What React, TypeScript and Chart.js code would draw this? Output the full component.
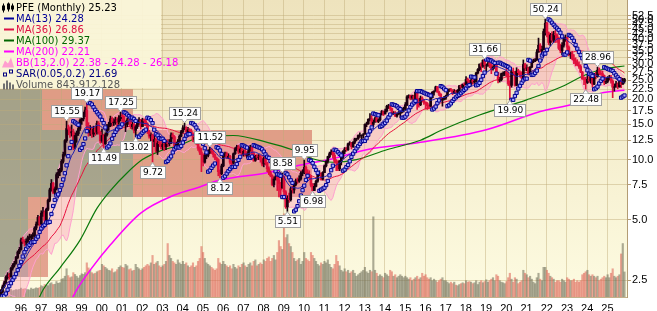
import React, { useEffect, useRef } from "react";
import { Chart, registerables } from "chart.js";

Chart.register(...registerables);

const closes: number[] = [
  2.18, 2.31, 2.42, 2.58, 2.65, 2.59, 2.86, 2.96, 3.03, 3.24, 3.45, 3.56,
  3.97, 3.90, 3.86, 3.90, 4.07, 4.11, 4.14, 4.17, 4.55, 4.76, 5.14, 4.76,
  5.40, 5.47, 4.97, 5.64, 6.25, 7.06, 7.60, 6.85, 7.14, 8.41, 8.63, 8.84,
  9.80, 10.6, 12.45, 14.3, 14.2, 13.6, 13.8, 11.5, 13.2, 13.5, 14.3, 15.7,
  15.97, 16.9, 17.7, 14.7, 13.6, 14.0, 13.4, 14.2, 13.7, 15.2, 13.7, 12.4,
  13.2, 12.0, 13.3, 14.6, 14.8, 16.0, 15.3, 15.4, 15.8, 15.4, 16.0, 16.5,
  16.4, 15.0, 15.0, 15.8, 15.7, 14.6, 15.0, 14.0, 14.6, 15.3, 15.8, 14.6,
  15.8, 15.6, 15.1, 13.8, 13.1, 13.3, 12.3, 12.6, 11.0, 12.1, 12.0, 11.6,
  11.9, 11.6, 12.2, 12.0, 12.1, 13.3, 13.0, 11.7, 11.9, 12.3, 13.1, 13.8,
  14.4, 14.4, 13.8, 14.1, 13.9, 13.5, 12.6, 12.9, 12.0, 11.4, 10.9, 10.6,
  9.7, 10.5, 10.5, 10.9, 11.2, 11.0, 10.6, 10.2, 10.0, 8.7, 8.5, 9.3,
  10.5, 10.7, 10.2, 10.4, 9.7, 9.6, 10.7, 11.3, 11.6, 10.9, 11.3, 10.6,
  11.0, 10.5, 10.6, 11.1, 11.55, 10.75, 9.9, 10.4, 10.25, 10.3, 10.0, 9.5,
  10.1, 9.6, 9.0, 8.6, 8.3, 7.5, 8.0, 8.2, 7.9, 7.6, 7.05, 8.2,
  6.9, 5.8, 6.4, 6.3, 7.15, 7.05, 7.5, 7.85, 7.8, 8.0, 8.55, 8.6,
  9.15, 8.6, 8.4, 8.2, 7.45, 7.0, 7.35, 7.8, 8.4, 8.5, 8.0, 8.6,
  9.3, 9.8, 10.35, 10.7, 10.9, 10.5, 9.8, 9.7, 9.0, 9.85, 10.25, 11.0,
  11.3, 11.2, 12.0, 12.1, 11.6, 12.2, 12.7, 12.7, 13.2, 13.2, 13.25, 13.3,
  15.0, 15.1, 15.9, 16.0, 15.0, 15.4, 16.1, 15.5, 15.8, 16.9, 17.4, 16.8,
  17.5, 18.5, 18.5, 18.0, 17.0, 17.1, 16.5, 16.9, 17.0, 17.25, 17.9, 17.9,
  18.8, 20.6, 20.9, 20.3, 20.8, 20.1, 21.7, 19.3, 18.8, 20.3, 19.7, 19.4,
  19.1, 18.6, 18.5, 20.4, 21.7, 22.0, 23.1, 21.75, 21.2, 19.8, 20.1, 20.3,
  20.8, 22.3, 22.4, 22.2, 21.4, 22.0, 21.7, 22.2, 23.4, 23.0, 23.8, 23.7,
  25.2, 24.7, 24.1, 24.9, 24.4, 24.7, 27.1, 28.2, 30.0, 29.3, 31.4, 29.7,
  29.7, 30.3, 29.75, 28.4, 29.05, 30.3, 27.2, 24.9, 25.1, 26.9, 26.95, 27.4,
  26.8, 24.0, 23.5, 27.6, 27.5, 23.5, 27.7, 27.2, 26.4, 25.6, 29.9, 28.7,
  28.7, 26.8, 29.0, 31.0, 31.1, 31.5, 34.5, 37.3, 34.9, 35.5, 43.7, 48.1,
  43.0, 38.5, 42.0, 39.5, 42.5, 42.0, 40.5, 36.0, 35.0, 37.3, 40.0, 40.8,
  36.5, 33.5, 33.8, 32.0, 31.2, 30.3, 29.7, 29.2, 27.4, 25.3, 25.2, 24.3,
  25.2, 24.7, 25.8, 23.8, 26.6, 26.0, 28.0, 27.0, 26.9, 26.3, 24.4, 24.6,
  25.7, 25.7, 24.7, 23.0, 23.1, 23.9, 23.1, 24.6, 23.7, 24.6, 25.23,
];

const highs: number[] = [
  2.24, 2.36, 2.47, 2.62, 2.72, 2.70, 2.90, 3.02, 3.10, 3.28, 3.50, 3.64,
  4.05, 4.10, 3.98, 4.02, 4.15, 4.24, 4.22, 4.30, 4.62, 4.88, 5.26, 5.20,
  5.55, 5.78, 5.55, 5.72, 6.35, 7.20, 7.95, 7.70, 7.30, 8.60, 8.95, 9.05,
  10.0, 10.9, 12.6, 15.55, 14.9, 14.6, 14.9, 14.2, 13.6, 13.9, 14.8, 16.0,
  16.6, 17.3, 18.3, 19.17, 15.3, 14.8, 14.6, 14.7, 14.6, 15.6, 15.5, 13.9,
  14.2, 13.4, 13.6, 15.0, 15.4, 16.5, 16.3, 16.0, 16.3, 16.2, 16.6, 17.25,
  17.0, 16.6, 15.6, 16.1, 16.2, 15.9, 15.4, 15.2, 14.9, 15.6, 16.2, 15.9,
  16.1, 16.0, 15.9, 15.3, 14.0, 13.6, 13.4, 13.2, 12.8, 12.4, 12.7, 12.3,
  12.4, 12.2, 12.5, 12.6, 12.6, 13.6, 13.6, 13.2, 12.2, 12.6, 13.3, 14.0,
  14.8, 15.24, 14.6, 14.5, 14.3, 14.2, 13.6, 13.1, 13.0, 12.3, 11.6, 11.4,
  10.7, 10.8, 10.7, 11.2, 11.52, 11.4, 11.1, 10.7, 10.3, 10.1, 8.9, 9.5,
  10.7, 10.9, 10.9, 10.7, 10.5, 9.9, 10.8, 11.5, 11.8, 11.8, 11.5, 11.5,
  11.2, 11.3, 10.8, 11.4, 11.8, 11.6, 10.9, 10.5, 10.6, 10.6, 10.5, 10.2,
  10.3, 10.2, 9.7, 9.2, 8.8, 8.4, 8.2, 8.4, 8.3, 8.2, 7.7, 8.58,
  8.3, 7.0, 6.6, 6.8, 7.3, 7.35, 7.6, 8.0, 8.1, 8.3, 8.7, 8.9,
  9.95, 9.3, 8.9, 8.8, 8.3, 7.6, 7.6, 7.9, 8.5, 8.8, 8.6, 8.7,
  9.4, 9.9, 10.4, 10.9, 11.2, 11.0, 10.8, 10.0, 9.9, 9.9, 10.4, 11.1,
  11.5, 11.5, 12.1, 12.3, 12.2, 12.3, 12.8, 12.8, 13.3, 13.6, 13.3, 13.5,
  15.1, 15.4, 16.0, 17.0, 16.6, 15.8, 16.3, 16.3, 16.0, 17.0, 17.6, 17.5,
  17.9, 18.7, 18.9, 18.6, 18.1, 17.4, 17.4, 17.1, 17.4, 17.4, 18.1, 18.3,
  19.3, 20.9, 21.1, 21.0, 21.0, 21.0, 22.0, 22.0, 20.2, 20.8, 20.6, 20.0,
  19.4, 19.3, 18.8, 20.6, 21.9, 22.1, 23.3, 23.2, 22.0, 21.4, 20.3, 20.7,
  21.0, 22.5, 22.6, 22.7, 22.4, 22.4, 22.2, 22.4, 23.5, 23.6, 23.9, 24.2,
  26.0, 25.6, 25.0, 25.2, 25.1, 25.3, 27.3, 28.5, 30.1, 30.5, 31.5, 31.66,
  30.0, 30.6, 30.7, 30.0, 29.4, 30.4, 30.5, 27.3, 25.8, 27.1, 27.5, 27.6,
  28.5, 27.4, 24.8, 28.0, 28.7, 27.6, 28.8, 28.3, 27.8, 27.5, 31.5, 30.3,
  29.8, 29.0, 29.2, 31.4, 31.8, 32.0, 35.5, 40.5, 38.0, 36.8, 45.0, 50.24,
  48.5, 43.5, 42.8, 43.5, 43.8, 44.2, 42.5, 41.0, 37.8, 38.5, 41.0, 42.0,
  41.0, 37.0, 34.5, 34.8, 33.5, 32.3, 31.6, 30.8, 29.8, 27.6, 25.9, 25.8,
  26.6, 26.0, 26.2, 25.9, 27.0, 27.3, 28.96, 28.7, 27.8, 27.7, 26.5, 25.5,
  26.0, 26.4, 26.4, 25.1, 23.9, 24.6, 24.2, 25.0, 25.7, 25.5, 25.5,
];

const lows: number[] = [
  2.08, 2.15, 2.28, 2.40, 2.52, 2.52, 2.58, 2.80, 2.90, 3.00, 3.20, 3.38,
  3.52, 3.80, 3.70, 3.75, 3.85, 3.98, 3.88, 4.02, 4.12, 4.45, 4.70, 4.65,
  4.72, 5.20, 4.85, 4.88, 5.55, 6.15, 6.95, 6.75, 6.70, 7.05, 8.10, 8.30,
  8.70, 9.60, 10.4, 12.2, 13.3, 12.9, 13.1, 11.2, 11.3, 12.2, 13.2, 14.0,
  15.0, 15.6, 16.4, 14.2, 13.1, 13.2, 12.9, 13.0, 13.2, 13.4, 13.4, 12.1,
  12.2, 11.49, 11.9, 13.1, 14.0, 14.6, 14.7, 14.8, 15.0, 14.6, 15.0, 15.6,
  15.5, 14.8, 13.8, 14.6, 15.0, 14.3, 14.2, 13.6, 13.02, 14.3, 15.0, 14.2,
  14.6, 15.0, 14.8, 13.5, 12.8, 12.2, 9.72, 11.6, 10.9, 10.6, 11.6, 11.3,
  11.2, 11.1, 11.2, 11.6, 11.7, 12.0, 12.7, 11.5, 11.5, 11.7, 12.2, 13.0,
  13.6, 14.1, 13.4, 13.6, 13.5, 13.2, 12.3, 12.2, 11.9, 11.1, 10.6, 8.7,
  9.3, 9.6, 10.1, 10.3, 10.7, 10.7, 10.3, 10.0, 9.6, 8.3, 8.12, 8.4,
  9.2, 10.3, 10.1, 10.1, 9.5, 9.2, 9.5, 10.6, 11.1, 10.7, 10.8, 10.5,
  10.4, 10.4, 10.2, 10.5, 11.0, 10.6, 9.8, 9.8, 10.0, 10.0, 9.7, 9.3,
  9.2, 9.4, 8.7, 8.4, 8.2, 7.4, 7.3, 7.9, 7.0, 6.5, 6.5, 7.2,
  6.7, 5.7, 5.51, 6.1, 6.2, 6.8, 6.8, 7.4, 7.6, 7.7, 7.9, 8.3,
  8.5, 8.3, 8.3, 8.0, 7.3, 6.98, 7.0, 7.3, 7.7, 8.3, 7.9, 7.9,
  8.6, 9.2, 9.6, 10.2, 10.6, 10.2, 9.6, 8.8, 8.8, 8.8, 9.4, 10.1,
  10.7, 11.0, 11.1, 11.8, 11.3, 11.5, 12.0, 12.4, 12.6, 12.9, 12.4, 12.8,
  13.4, 14.6, 15.0, 15.6, 14.9, 14.6, 15.4, 15.4, 15.3, 15.6, 16.7, 16.6,
  16.9, 17.3, 18.0, 17.6, 16.8, 16.8, 16.4, 16.3, 16.8, 16.2, 17.1, 17.3,
  17.6, 18.6, 20.3, 19.9, 20.0, 19.9, 19.9, 17.8, 18.3, 18.6, 19.4, 18.9,
  17.9, 17.8, 17.9, 18.4, 20.3, 21.0, 22.0, 21.7, 20.9, 19.6, 18.5, 19.9,
  20.0, 20.8, 21.9, 21.9, 21.1, 21.4, 21.5, 21.5, 22.1, 22.7, 22.8, 23.3,
  23.7, 23.6, 23.6, 23.5, 23.8, 24.0, 24.4, 26.8, 27.8, 27.5, 28.9, 28.4,
  27.5, 29.2, 28.8, 26.9, 28.0, 28.6, 26.8, 24.2, 24.4, 24.7, 26.2, 26.3,
  25.9, 23.5, 19.90, 23.0, 26.5, 23.3, 23.4, 26.6, 25.8, 25.4, 25.4, 27.8,
  27.8, 26.5, 26.6, 28.8, 30.5, 30.9, 31.3, 34.4, 34.5, 33.9, 35.4, 41.9,
  41.0, 37.5, 37.0, 38.7, 38.5, 38.5, 38.5, 35.5, 34.2, 33.5, 36.5, 39.0,
  35.5, 33.0, 32.0, 31.6, 30.2, 29.4, 29.5, 28.6, 27.2, 25.2, 23.7, 22.48,
  24.0, 24.3, 24.1, 23.0, 23.7, 25.3, 25.8, 26.5, 26.4, 25.9, 23.7, 24.0,
  24.2, 25.0, 24.1, 20.4, 22.0, 23.0, 22.6, 23.0, 22.9, 23.8, 24.1,
];

const volumes: number[] = [
  210, 190, 230, 200, 220, 240, 260, 210, 230, 250, 240, 260,
  300, 260, 280, 270, 250, 240, 300, 260, 280, 310, 290, 320,
  380, 350, 420, 400, 380, 450, 480, 420, 430, 520, 460, 480,
  600, 620, 700, 950, 720, 650, 680, 820, 760, 700, 640, 720,
  780, 760, 820, 1150, 980, 900, 820, 780, 800, 850, 880, 900,
  1100, 1050, 1000, 950, 900, 880, 950, 820, 850, 920, 1000, 1050,
  1000, 980, 1100, 1050, 920, 950, 880, 900, 1100, 1000, 950, 900,
  950, 1000, 1050, 1100, 1050, 1150, 1400, 1100, 1150, 1200, 1050, 1000,
  1050, 1100, 1200, 1800, 1400, 1300, 1200, 1150, 1100, 1250, 1150, 1100,
  1200, 1100, 1150, 1050, 1000, 1050, 1150, 1000, 1050, 1200, 1300, 1700,
  1500, 1300, 1150, 1100, 1050, 1000, 950, 900, 950, 1300, 1150, 1100,
  1200, 1100, 1050, 1000, 1050, 950, 1100, 1000, 950, 1050, 1000, 1100,
  1150, 1050, 1000, 1100, 1150, 1050, 1200, 1250, 1050, 1100, 1150, 1100,
  1250, 1200, 1300, 1350, 1200, 1300, 1400, 1250, 1500, 1900, 1700, 1600,
  2800, 2000, 2100, 1800, 1700, 1500, 1300, 1200, 1250, 1300, 1100, 1200,
  1500, 1300, 1250, 1200, 1500, 1400, 1300, 1200, 1100, 1050, 1150, 1100,
  1200, 1150, 1250, 1100, 1000, 950, 1100, 1400, 1200, 1050, 900, 850,
  950, 850, 900, 800, 850, 900, 800, 700, 750, 800, 850, 900,
  1000, 850, 800, 900, 850, 2700, 900, 800, 700, 750, 700, 650,
  800, 750, 700, 900, 850, 700, 750, 650, 700, 750, 700, 650,
  700, 650, 600, 650, 550, 600, 650, 700, 600, 650, 800, 700,
  750, 650, 600, 650, 550, 600, 550, 500, 550, 600, 650, 550,
  550, 500, 450, 500, 450, 500, 400, 380, 420, 450, 480, 450,
  550, 500, 520, 500, 450, 480, 550, 420, 500, 550, 480, 520,
  580, 500, 550, 600, 650, 550, 750, 700, 550, 500, 480, 450,
  520, 650, 800, 600, 500, 650, 600, 450, 500, 550, 900, 800,
  750, 650, 700, 600, 500, 450, 650, 800, 600, 550, 1000, 1000,
  900, 800, 700, 650, 600, 500, 550, 550, 500, 600, 550, 500,
  650, 600, 550, 550, 600, 500, 550, 500, 550, 750, 800, 850,
  900, 750, 700, 750, 700, 650, 700, 550, 600, 650, 700, 650,
  750, 650, 800, 950, 700, 650, 700, 750, 1450, 1800, 844,
];

const ma100Idx = [22, 25, 35, 47, 57, 65, 75, 84, 94, 106, 118, 138, 158, 173, 185, 197, 211, 229, 249, 262, 284, 312, 332, 348, 361, 370];
const ma100Val = [1.98, 2.23, 2.87, 3.96, 5.7, 7.0, 8.6, 10.0, 11.0, 11.8, 12.9, 13.2, 12.2, 11.2, 10.1, 9.7, 10.0, 11.2, 12.5, 14.1, 16.7, 19.9, 23.0, 26.8, 28.7, 29.37];
const ma200Idx = [42, 45, 53, 65, 83, 103, 118, 130, 158, 178, 197, 217, 249, 288, 320, 342, 356, 370];
const ma200Val = [2.0, 2.23, 2.8, 3.75, 5.4, 6.65, 7.3, 7.9, 8.6, 9.4, 10.1, 11.2, 12.2, 14.1, 17.4, 19.2, 21.5, 22.21];

const vbpLow = [2.6, 6.5, 14.1];
const vbpHigh = [6.5, 14.1, 22.6];
const vbpUp = [4.5, 21.2, 6.7];
const vbpDown = [3.2, 28.5, 14.5];

const yearLabels = ["96", "97", "98", "99", "00", "01", "02", "03", "04", "05", "06", "07", "08", "09", "10", "11", "12", "13", "14", "15", "16", "17", "18", "19", "20", "21", "22", "23", "24", "25"];
const yTickValues = [2.5, 5, 7.5, 10, 12.5, 15, 17.5, 20, 22.5, 25, 27.5, 30, 32.5, 35, 37.5, 40, 42.5, 45, 47.5, 50, 52.5];

const annIdx = [39, 51, 61, 71, 80, 90, 109, 124, 130, 167, 170, 180, 185, 287, 302, 323, 347, 354];
const annSide = ["H", "H", "L", "H", "L", "L", "H", "H", "L", "H", "L", "H", "L", "H", "L", "H", "L", "H"];

const legendTexts = [
  "PFE (Monthly) 25.23",
  "MA(13) 24.28",
  "MA(36) 26.86",
  "MA(100) 29.37",
  "MA(200) 22.21",
  "BB(13,2.0) 22.38 - 24.28 - 26.18",
  "SAR(0.05,0.2) 21.69",
  "Volume 843,912,128",
];
const legendColors = ["#000000", "#000099", "#dd1144", "#006600", "#ff00ff", "#ff00ff", "#000080", "#555555"];

const X_MIN = -0.5;
const X_MAX = 371.5;
const Y_MIN = 2.056;
const Y_MAX = 62.8;
const VOL_MAX = 10000;
const LABEL_SHIFT = 0.4;

const UP = "#1a0010";
const DOWN = "#e0103c";

const n = closes.length;
function windowStats(p: number, i: number) {
  const s = Math.max(0, i - p + 1);
  let sum = 0;
  for (let k = s; k <= i; k++) sum += closes[k];
  const m = sum / (i - s + 1);
  let v = 0;
  for (let k = s; k <= i; k++) v += (closes[k] - m) * (closes[k] - m);
  return { mean: m, sd: Math.sqrt(v / (i - s + 1)) };
}
const ma13 = closes.map((_, i) => windowStats(13, i).mean);
const ma36 = closes.map((_, i) => windowStats(36, i).mean);
const bbUp = closes.map((_, i) => { const s = windowStats(13, i); return s.mean + 2 * s.sd; });
const bbLo = closes.map((_, i) => { const s = windowStats(13, i); return s.mean - 2 * s.sd; });

function psar(step: number, maxAf: number) {
  const out: (number | null)[] = [null];
  let up = closes[1] >= closes[0];
  let sar = up ? lows[0] : highs[0];
  let ep = up ? highs[0] : lows[0];
  let af = step;
  for (let i = 1; i < n; i++) {
    let next = sar + af * (ep - sar);
    if (up) {
      next = Math.min(next, lows[i - 1], lows[Math.max(0, i - 2)]);
      if (lows[i] < next) { up = false; next = ep; ep = lows[i]; af = step; }
      else if (highs[i] > ep) { ep = highs[i]; af = Math.min(af + step, maxAf); }
    } else {
      next = Math.max(next, highs[i - 1], highs[Math.max(0, i - 2)]);
      if (highs[i] > next) { up = true; next = ep; ep = highs[i]; af = step; }
      else if (lows[i] < ep) { ep = lows[i]; af = Math.min(af + step, maxAf); }
    }
    sar = next;
    out.push(sar);
  }
  return out;
}
const sar = psar(0.05, 0.2);

const isUp = closes.map((c, i) => (i === 0 ? true : c >= closes[i - 1]));
const opens = closes.map((c, i) => (i === 0 ? lows[0] : Math.min(Math.max(closes[i - 1], lows[i]), highs[i])));

const zeroPad = (s: any) => { s.paddingLeft = 0; s.paddingRight = 0; s.paddingTop = 0; s.paddingBottom = 0; };

const backPlugin = {
  id: "backPlugin",
  beforeDraw(chart: any) {
    const { ctx, chartArea: a, scales } = chart;
    ctx.save();
    const g = ctx.createLinearGradient(0, a.top, 0, a.bottom);
    g.addColorStop(0, "#eee3bd");
    g.addColorStop(1, "#fdfbe1");
    ctx.fillStyle = g;
    ctx.fillRect(a.left, a.top, a.right - a.left, a.bottom - a.top);
    const xv = scales.xv, y = scales.y;
    for (let k = 0; k < vbpLow.length; k++) {
      const yt = Math.round(y.getPixelForValue(vbpHigh[k]));
      const yb = Math.round(y.getPixelForValue(vbpLow[k]));
      const x0 = Math.round(xv.getPixelForValue(0));
      const x1 = Math.round(xv.getPixelForValue(vbpUp[k]));
      const x2 = Math.round(xv.getPixelForValue(vbpUp[k] + vbpDown[k]));
      ctx.fillStyle = "rgba(108,108,90,0.58)";
      ctx.fillRect(x0, yt, x1 - x0, yb - yt);
      ctx.fillStyle = "rgba(205,85,70,0.52)";
      ctx.fillRect(x1, yt, x2 - x1, yb - yt);
    }
    ctx.restore();
  },
  beforeDatasetsDraw(chart: any) {
    const { ctx, chartArea: a, scales } = chart;
    ctx.save();
    ctx.strokeStyle = "rgba(190,170,120,0.45)";
    ctx.lineWidth = 1;
    for (let k = 1; k <= yearLabels.length; k++) {
      const x = Math.round(scales.x.getPixelForValue(12 * k - 0.5)) + 0.5;
      ctx.beginPath();
      ctx.moveTo(x, a.top);
      ctx.lineTo(x, a.bottom);
      ctx.stroke();
    }
    ctx.restore();
  },
  afterDatasetsDraw(chart: any) {
    const { ctx, scales } = chart;
    ctx.save();
    ctx.fillStyle = "rgba(250,245,216,0.93)";
    ctx.fillRect(0, 0, 161, 88);
    ctx.font = '10px "DejaVu Sans"';
    ctx.textBaseline = "middle";
    ctx.textAlign = "left";
    for (let r = 0; r < legendTexts.length; r++) {
      const cy = 7.5 + r * 11;
      const col = legendColors[r];
      if (r === 0) {
        ctx.fillStyle = "#000";
        ctx.fillRect(3, cy - 4, 1, 9);
        ctx.fillRect(2, cy - 2, 3, 5);
        ctx.fillRect(8, cy - 5, 1, 9);
        ctx.strokeStyle = "#000";
        ctx.strokeRect(7.5, cy - 3.5, 2, 5);
        ctx.fillRect(12, cy - 4, 1, 8);
        ctx.fillRect(11, cy - 2, 3, 4);
      } else if (r <= 4) {
        ctx.fillStyle = col;
        ctx.fillRect(4, cy - 1, 10, 2);
      } else if (r === 5) {
        ctx.fillStyle = "#ff9fcf";
        ctx.beginPath();
        ctx.moveTo(2, cy + 5);
        ctx.lineTo(5, cy - 2);
        ctx.lineTo(8, cy + 1);
        ctx.lineTo(11, cy - 5);
        ctx.lineTo(14, cy + 5);
        ctx.closePath();
        ctx.fill();
      } else if (r === 6) {
        ctx.strokeStyle = "#000080";
        ctx.lineWidth = 1;
        ctx.strokeRect(3.5, cy - 0.5, 3, 3);
        ctx.strokeRect(9.5, cy - 3.5, 3, 3);
      } else {
        ctx.fillStyle = "#707070";
        ctx.fillRect(3, cy - 1, 2, 6);
        ctx.fillRect(6, cy - 4, 2, 9);
        ctx.fillRect(9, cy - 2, 2, 7);
        ctx.fillRect(12, cy, 2, 5);
      }
      ctx.fillStyle = col;
      ctx.fillText(legendTexts[r], 16, cy + 0.5);
    }
    ctx.font = '9px "DejaVu Sans"';
    ctx.textAlign = "center";
    ctx.textBaseline = "middle";
    for (let k = 0; k < annIdx.length; k++) {
      const i = annIdx[k];
      const isHigh = annSide[k] === "H";
      const v = isHigh ? highs[i] : lows[i];
      const px = scales.x.getPixelForValue(i);
      const py = scales.y.getPixelForValue(v);
      const t = v.toFixed(2);
      const w = Math.round(ctx.measureText(t).width + 5);
      const h = 12;
      const bx = Math.round(px - w / 2) + 0.5;
      const by = isHigh ? Math.round(py - 4 - h) + 0.5 : Math.round(py + 4) + 0.5;
      ctx.fillStyle = "#fdfdfd";
      ctx.strokeStyle = "#a0a0a0";
      ctx.lineWidth = 1;
      ctx.fillRect(bx, by, w, h);
      ctx.strokeRect(bx, by, w, h);
      ctx.beginPath();
      if (isHigh) {
        ctx.moveTo(px - 3, by + h);
        ctx.lineTo(px, py - 0.5);
        ctx.lineTo(px + 3, by + h);
      } else {
        ctx.moveTo(px - 3, by);
        ctx.lineTo(px, py + 0.5);
        ctx.lineTo(px + 3, by);
      }
      ctx.closePath();
      ctx.fill();
      ctx.stroke();
      ctx.fillStyle = "#fdfdfd";
      ctx.fillRect(px - 2, isHigh ? by + h - 1 : by, 4, 2);
      ctx.fillStyle = "#000";
      ctx.fillText(t, px + 0.5, by + h / 2 + 0.5);
    }
    ctx.restore();
  },
};

export default function App() {
  const ref = useRef<HTMLCanvasElement | null>(null);
  useEffect(() => {
    document.body.style.margin = "0";
    const idx = closes.map((_, i) => i);
    const volumeData = idx.map((i) => ({ x: i, y: volumes[i] }));
    const volColors = idx.map((i) => (isUp[i] ? "rgba(105,105,85,0.55)" : "rgba(220,95,82,0.55)"));
    const hlData = idx.map((i) => ({ x: i, y: [lows[i], highs[i]] }));
    const bodyData = idx.map((i) => ({ x: i, y: [Math.min(opens[i], closes[i]), Math.max(opens[i], closes[i]) + 0.0001] }));
    const barColors = idx.map((i) => (isUp[i] ? UP : DOWN));
    const line = (arr: number[]) => idx.map((i) => ({ x: i, y: arr[i] }));

    const chart = new Chart(ref.current as HTMLCanvasElement, {
      type: "bar",
      data: {
        datasets: [
          { type: "bar", label: "Volume", data: volumeData as any, yAxisID: "yv", xAxisID: "x",
            backgroundColor: volColors, barThickness: 1.5, grouped: false, order: 20 } as any,
          { type: "line", label: "BBlow", data: line(bbLo), yAxisID: "y", xAxisID: "x",
            borderColor: "#ffa0cf", borderWidth: 1, pointRadius: 0, pointHoverRadius: 0, fill: false, order: 15 },
          { type: "line", label: "BBup", data: line(bbUp), yAxisID: "y", xAxisID: "x",
            borderColor: "#ffa0cf", borderWidth: 1, pointRadius: 0, pointHoverRadius: 0,
            fill: { target: 1 }, backgroundColor: "rgba(255,140,185,0.33)", order: 15 },
          { type: "line", label: "MA200", data: ma200Idx.map((x, k) => ({ x, y: ma200Val[k] })), yAxisID: "y", xAxisID: "x",
            borderColor: "#ff00ff", borderWidth: 1.5, pointRadius: 0, pointHoverRadius: 0, cubicInterpolationMode: "monotone", order: 12 },
          { type: "line", label: "MA100", data: ma100Idx.map((x, k) => ({ x, y: ma100Val[k] })), yAxisID: "y", xAxisID: "x",
            borderColor: "#0a780a", borderWidth: 1.2, pointRadius: 0, pointHoverRadius: 0, cubicInterpolationMode: "monotone", order: 11 },
          { type: "line", label: "MA36", data: line(ma36), yAxisID: "y", xAxisID: "x",
            borderColor: "#e8103c", borderWidth: 1, pointRadius: 0, pointHoverRadius: 0, order: 10 },
          { type: "bar", label: "HL", data: hlData as any, yAxisID: "y", xAxisID: "x",
            backgroundColor: barColors, barThickness: 1, grouped: false, order: 8 } as any,
          { type: "bar", label: "Body", data: bodyData as any, yAxisID: "y", xAxisID: "x",
            backgroundColor: barColors, barThickness: 2, grouped: false, order: 7 } as any,
          { type: "line", label: "MA13", data: line(ma13), yAxisID: "y", xAxisID: "x",
            borderColor: "#2020b0", borderWidth: 1, pointRadius: 0, pointHoverRadius: 0, order: 5 },
          { type: "line", label: "SAR", data: idx.filter((i) => sar[i] !== null).map((i) => ({ x: i, y: sar[i] as number })),
            yAxisID: "y", xAxisID: "x", showLine: false, pointStyle: "rect", pointRadius: 2.3, pointHoverRadius: 0,
            pointBorderWidth: 1, pointBorderColor: "#000090", pointBackgroundColor: "#a8a8ff",
            borderColor: "#000090", backgroundColor: "#a8a8ff", order: 3 } as any,
        ],
      },
      options: {
        animation: false,
        responsive: false,
        maintainAspectRatio: false,
        events: [],
        layout: { padding: 0, autoPadding: false },
        plugins: { legend: { display: false }, tooltip: { enabled: false } },
        scales: {
          x: {
            type: "linear", position: "bottom", min: X_MIN, max: X_MAX, offset: false,
            grid: { display: false, offset: false },
            border: { display: true, color: "#c2b08a" },
            ticks: {
              autoSkip: false, maxRotation: 0, minRotation: 0, padding: -3,
              font: { family: "Arial", size: 11 }, color: "#000",
              callback: (_v: any, i: number) => yearLabels[i],
            },
            afterBuildTicks: (s: any) => {
              s.ticks = yearLabels.map((_, k) => ({ value: 12 * (k + 1) - 0.5 + LABEL_SHIFT }));
            },
            afterFit: (s: any) => { s.height = 14; zeroPad(s); },
          },
          y: {
            type: "logarithmic", position: "right", min: Y_MIN, max: Y_MAX,
            grid: { color: "rgba(190,170,120,0.45)", tickColor: "#b39c74", tickLength: 4, drawTicks: true },
            border: { display: true, color: "#b39c74" },
            ticks: {
              autoSkip: false, padding: 1, font: { family: "Arial", size: 11 }, color: "#000",
              callback: (v: any) => Number(v).toFixed(1),
            },
            afterBuildTicks: (s: any) => { s.ticks = yTickValues.map((v) => ({ value: v })); },
            afterFit: (s: any) => { s.width = 30; zeroPad(s); },
          },
          yv: { type: "linear", display: false, min: 0, max: VOL_MAX, position: "right", afterFit: (s: any) => zeroPad(s) },
          xv: { type: "linear", display: false, min: 0, max: 100, position: "bottom", offset: false, afterFit: (s: any) => zeroPad(s) },
        },
      } as any,
      plugins: [backPlugin],
    });
    return () => chart.destroy();
  }, []);

  return (
    <div style={{ width: 657, height: 311 }}>
      <canvas ref={ref} width={657} height={311} style={{ display: "block", width: 657, height: 311 }} />
    </div>
  );
}
